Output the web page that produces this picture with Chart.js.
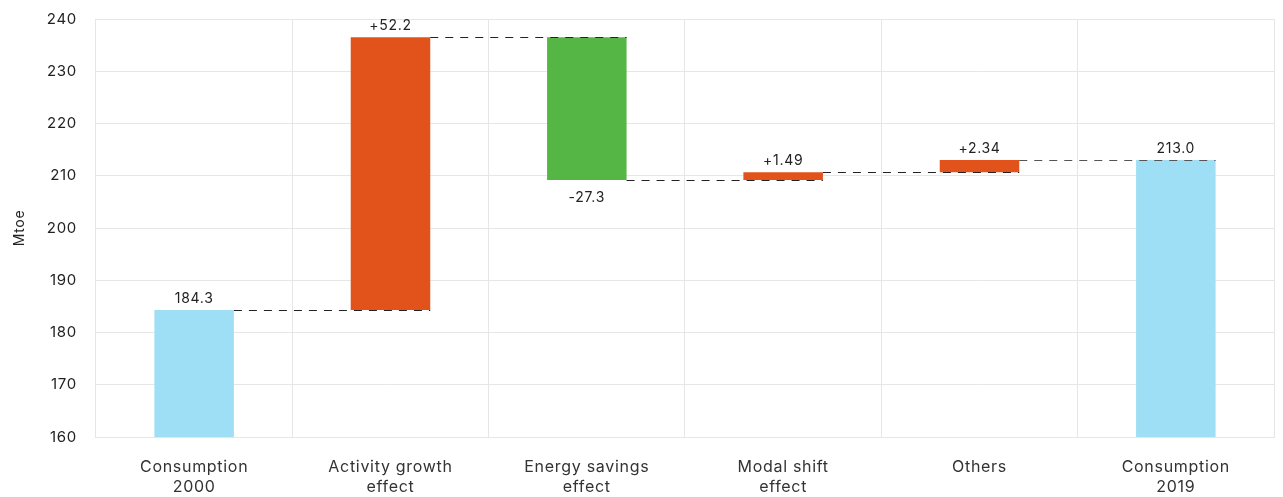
<!DOCTYPE html>
<html>
<head>
<meta charset="utf-8">
<script src="https://cdn.jsdelivr.net/npm/chart.js@4/dist/chart.umd.min.js"></script>
<style>
  html, body { margin: 0; padding: 0; background: #fff; }
  #wrap { width: 1283px; height: 497px; }
</style>
</head>
<body>
<div id="wrap"><canvas id="waterfall"></canvas></div>
<script>
const categories = [
  ["Consumption", "2000"],
  ["Activity growth", "effect"],
  ["Energy savings", "effect"],
  ["Modal shift", "effect"],
  ["Others"],
  ["Consumption", "2019"],
];
// first and last are totals, the rest are changes
const startTotal = 184.3;
const changes = [52.2, -27.3, 1.49, 2.34];
const endTotal = 213.0;
const valueLabels = ["184.3", "+52.2", "-27.3", "+1.49", "+2.34", "213.0"];
const yTicks = [160, 170, 180, 190, 200, 210, 220, 230, 240];

const AXIS_MIN = 160;

// build floating ranges
const ranges = [[AXIS_MIN, startTotal]];
let running = startTotal;
changes.forEach((c) => {
  ranges.push([running, running + c]);
  running += c;
});
ranges.push([AXIS_MIN, endTotal]);

const colors = ranges.map((r, i) => {
  if (i === 0 || i === ranges.length - 1) return "#9edff5";
  return r[1] >= r[0] ? "#e2521b" : "#55b646";
});

// slightly wider text everywhere
const spacing = {
  id: "spacing",
  beforeUpdate(chart) {
    chart.ctx.letterSpacing = "0.7px";
  },
  beforeDraw(chart) {
    chart.ctx.letterSpacing = "0.7px";
  },
};

const waterfallExtras = {
  id: "waterfallExtras",
  afterDatasetsDraw(chart) {
    const ctx = chart.ctx;
    const meta = chart.getDatasetMeta(0);
    const y = chart.scales.y;
    ctx.save();
    // dashed connectors from each bar end to the right edge of the next bar
    ctx.lineWidth = 1;
    ctx.setLineDash([8, 7]);
    for (let i = 0; i < ranges.length - 1; i++) {
      const cur = meta.data[i];
      const nxt = meta.data[i + 1];
      const level = y.getPixelForValue(ranges[i][1]);
      const x0 = cur.x + cur.width / 2;
      const x1 = nxt.x + nxt.width / 2;
      ctx.strokeStyle = i === ranges.length - 2 ? "#555" : "#222";
      ctx.beginPath();
      ctx.moveTo(x0, Math.round(level) + 0.5);
      ctx.lineTo(x1, Math.round(level) + 0.5);
      ctx.stroke();
    }
    ctx.setLineDash([]);
    // value labels
    ctx.fillStyle = "#222";
    ctx.font = "14px Inter";
    ctx.textAlign = "center";
    ranges.forEach((r, i) => {
      const bar = meta.data[i];
      const up = r[1] >= r[0];
      if (up) {
        ctx.textBaseline = "bottom";
        ctx.fillText(valueLabels[i], bar.x, y.getPixelForValue(r[1]) - 4);
      } else {
        ctx.textBaseline = "top";
        ctx.fillText(valueLabels[i], bar.x, y.getPixelForValue(r[1]) + 11);
      }
    });
    ctx.restore();
  },
};

new Chart(document.getElementById("waterfall"), {
  type: "bar",
  data: {
    labels: categories,
    datasets: [
      {
        data: ranges,
        backgroundColor: colors,
        borderWidth: 0,
        barPercentage: 0.405,
        categoryPercentage: 1,
      },
    ],
  },
  options: {
    responsive: true,
    maintainAspectRatio: false,
    animation: false,
    layout: { padding: { top: 19, right: 9, left: 11, bottom: 0 } },
    plugins: {
      legend: { display: false },
      tooltip: { enabled: false },
    },
    scales: {
      x: {
        grid: { color: "#e6e6e6", drawTicks: false },
        border: { color: "#e6e6e6" },
        ticks: {
          color: "#333",
          font: { family: "Inter", size: 16, lineHeight: 1.25 },
          padding: 20,
          maxRotation: 0,
        },
        afterFit(scale) {
          scale.height = 60;
        },
      },
      y: {
        min: AXIS_MIN,
        max: 240,
        afterBuildTicks(axis) {
          axis.ticks = yTicks.map((v) => ({ value: v }));
        },
        afterFit(scale) {
          scale.paddingTop = 0;
          scale.paddingBottom = 0;
        },
        grid: { color: "#e6e6e6", drawTicks: false },
        border: { color: "#e6e6e6" },
        ticks: {
          color: "#222",
          font: { family: "Inter", size: 15 },
          padding: 19,
        },
        title: {
          display: true,
          text: "Mtoe",
          color: "#222",
          font: { family: "Inter", size: 14 },
          padding: { top: 0, bottom: 0 },
        },
      },
    },
  },
  plugins: [spacing, waterfallExtras],
});
</script>
</body>
</html>
